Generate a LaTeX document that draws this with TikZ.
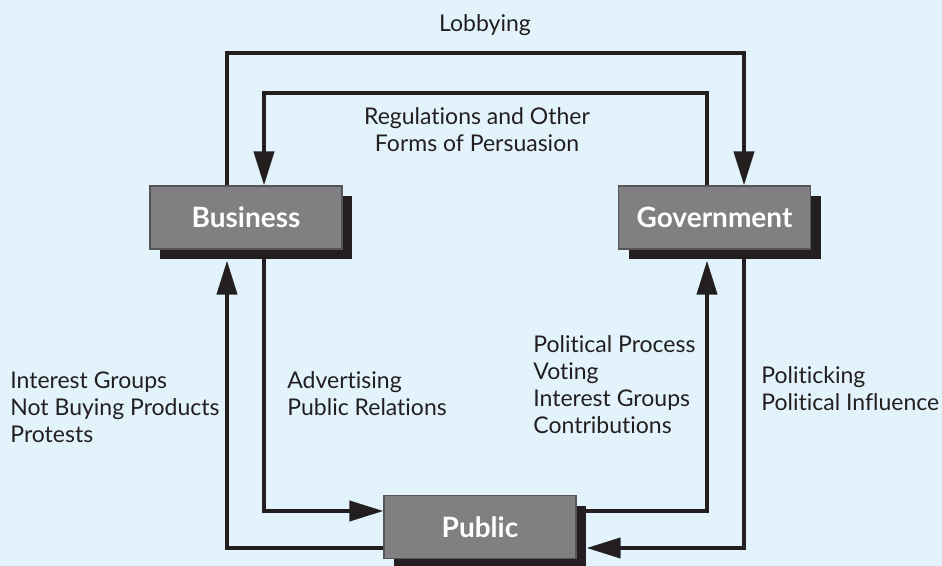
\documentclass[tikz,border=0pt]{standalone}
\usepackage{fontspec}
\setmainfont{Lato}[Ligatures=NoCommon]
\usepackage{xcolor}
\usepackage{tikz}
\usetikzlibrary{arrows.meta,positioning,calc,shadows}

\definecolor{bgblue}{RGB}{226,243,251}
\definecolor{boxgray}{RGB}{128,128,130}
\definecolor{boxedge}{RGB}{85,85,88}
\definecolor{inkblack}{RGB}{35,31,32}

\begin{document}
\begin{tikzpicture}[x=0.5pt,y=-0.5pt,>={Triangle[length=17pt,width=10pt]},
  actor/.style={draw=boxedge,line width=0.6pt,fill=boxgray,minimum width=96pt,minimum height=31.5pt,
    inner sep=0pt,text=white,font=\fontsize{14}{16}\selectfont\bfseries,
    drop shadow={opacity=1,fill=inkblack,shadow xshift=5pt,shadow yshift=-5pt}},
  flow/.style={draw=inkblack,line width=2pt,->},
  lbl/.style={inner sep=0pt,text=inkblack,font=\fontsize{11.5}{13.5}\selectfont,align=left}]
  \fill[bgblue] (0,0) rectangle (942,566);
  \useasboundingbox (0,0) rectangle (942,566);

  \node[actor] (bus) at (246,217.5) {Business};
  \node[actor] (gov) at (714.5,217.5) {Government};
  \node[actor] (pub) at (480,527) {Public};

  \coordinate (lobtop) at (480,53);
  \coordinate (regtop) at (480,93);

  \draw[flow] ($(bus.north)+(-19,0)$) |- (lobtop) -| ($(gov.north)+(29.5,0)$);
  \draw[flow] ($(gov.north)+(-7.5,0)$) |- (regtop) -| ($(bus.north)+(18,0)$);
  \draw[flow] ($(bus.south)+(18,0)$) |- ($(pub.west)+(0,-16)$);
  \draw[flow] ($(pub.west)+(0,21)$) -| ($(bus.south)+(-19,11)$);
  \draw[flow] ($(pub.east)+(0,-16)$) -| ($(gov.south)+(-7.5,11)$);
  \draw[flow] ($(gov.south)+(29.5,0)$) |- ($(pub.east)+(10,21)$);

  \node[lbl,anchor=north] (lobtxt) at (485,14) {Lobbying};
  \node[lbl,align=center,anchor=north] (regtxt) at (477,107) {Regulations and Other\\Forms of Persuasion};
  \node[lbl,anchor=north west] (pushtxt) at (10,371) {Interest Groups\\Not Buying Products\\Protests};
  \node[lbl,anchor=north west] (advtxt) at (287,371) {Advertising\\Public Relations};
  \node[lbl,anchor=north west] (voicetxt) at (533,335) {Political Process\\Voting\\Interest Groups\\Contributions};
  \node[lbl,anchor=north west] (infltxt) at (761,366) {Politicking\\Political Influence};
\end{tikzpicture}
\end{document}
